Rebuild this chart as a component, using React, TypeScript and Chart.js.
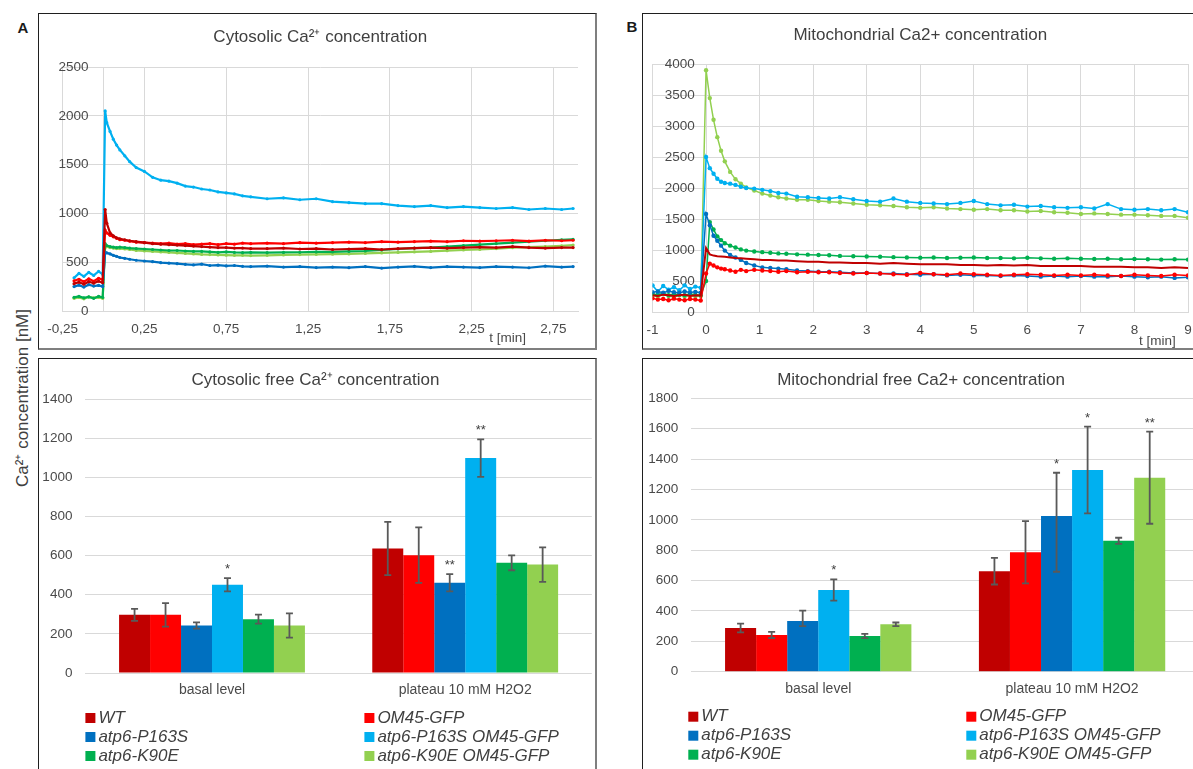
import React, { useEffect, useRef } from "react";
import { Chart, registerables } from "chart.js";

Chart.register(...registerables);

const FONT_FAMILY = "'Liberation Sans', Arial, Helvetica, sans-serif";
const TEXT_COLOR = "#404040";
const TICK_COLOR = "#4a4a4a";
const GRID_COLOR = "#d9d9d9";

// ---------- strains (bar order = legend order) ----------
const strainLabels = ["WT", "OM45-GFP", "atp6-P163S", "atp6-P163S OM45-GFP", "atp6-K90E", "atp6-K90E OM45-GFP"];
const strainColors = ["#C00000", "#FF0000", "#0070C0", "#00B0F0", "#00B050", "#92D050"];

// ---------- A: cytosolic Ca2+ time course ----------
const cytoTimeMin = [-0.18, -0.15, -0.12, -0.09, -0.06, -0.03, -0.005, 0.01, 0.02, 0.04, 0.06, 0.08, 0.1, 0.13, 0.16, 0.2, 0.25, 0.3, 0.35, 0.4, 0.45, 0.5, 0.55, 0.6, 0.65, 0.7, 0.75, 0.8, 0.85, 0.9, 1.0, 1.1, 1.2, 1.3, 1.4, 1.5, 1.6, 1.7, 1.8, 1.9, 2.0, 2.1, 2.2, 2.3, 2.4, 2.5, 2.6, 2.7, 2.8, 2.87];
const cytoTraceWT = [280, 295, 275, 300, 285, 305, 290, 1040, 900, 800, 770, 750, 740, 730, 720, 710, 700, 690, 685, 680, 675, 670, 665, 660, 655, 650, 650, 645, 645, 640, 640, 645, 635, 640, 630, 635, 640, 630, 640, 645, 650, 645, 650, 655, 650, 660, 650, 645, 650, 650];
const cytoTraceOM45 = [310, 325, 300, 330, 305, 335, 320, 830, 800, 775, 760, 745, 730, 725, 715, 705, 700, 695, 690, 695, 685, 690, 680, 685, 690, 680, 690, 685, 695, 690, 695, 690, 700, 695, 700, 705, 700, 710, 705, 710, 715, 710, 720, 715, 720, 725, 715, 725, 720, 725];
const cytoTraceP163S = [250, 265, 245, 270, 255, 262, 250, 600, 595, 585, 570, 560, 548, 540, 530, 520, 512, 505, 495, 490, 485, 478, 472, 480, 466, 470, 462, 466, 458, 455, 460, 450, 455, 445, 450, 444, 455, 440, 450, 458, 445, 455, 450, 445, 455, 450, 443, 460, 450, 455];
const cytoTraceP163SOM45 = [340, 385, 355, 395, 365, 405, 375, 2050, 1930, 1840, 1760, 1700, 1650, 1590, 1530, 1470, 1430, 1370, 1340, 1330, 1310, 1280, 1270, 1250, 1240, 1220, 1210, 1200, 1180, 1170, 1150, 1160, 1140, 1150, 1120, 1110, 1100, 1100, 1080, 1070, 1080, 1060, 1070, 1060, 1050, 1060, 1040, 1050, 1040, 1050];
const cytoTraceK90E = [140, 150, 135, 145, 130, 150, 140, 690, 670, 660, 655, 650, 655, 650, 645, 640, 635, 630, 625, 620, 620, 615, 610, 610, 605, 600, 605, 600, 598, 600, 598, 600, 602, 605, 605, 610, 615, 625, 635, 645, 650, 660, 670, 680, 690, 700, 710, 720, 730, 735];
const cytoTraceK90EOM45 = [130, 140, 125, 145, 135, 140, 130, 650, 660, 650, 645, 640, 640, 635, 630, 620, 615, 610, 605, 600, 595, 590, 585, 580, 578, 575, 572, 570, 570, 568, 570, 575, 578, 580, 582, 585, 590, 595, 600, 605, 610, 618, 625, 630, 640, 648, 655, 660, 668, 675];
const cytoTimeTicks = [-0.25, 0.25, 0.75, 1.25, 1.75, 2.25, 2.75];

// ---------- B: mitochondrial Ca2+ time course ----------
const mitoTimeMin = [-1, -0.9, -0.8, -0.7, -0.6, -0.5, -0.4, -0.3, -0.2, -0.1, 0, 0.07, 0.14, 0.21, 0.28, 0.35, 0.45, 0.55, 0.65, 0.75, 0.9, 1.05, 1.2, 1.35, 1.5, 1.7, 1.9, 2.1, 2.3, 2.5, 2.75, 3.0, 3.25, 3.5, 3.75, 4.0, 4.25, 4.5, 4.75, 5.0, 5.25, 5.5, 5.75, 6.0, 6.25, 6.5, 6.75, 7.0, 7.25, 7.5, 7.75, 8.0, 8.25, 8.5, 8.75, 9.0];
const mitoTraceWT = [270, 260, 280, 270, 260, 270, 280, 260, 270, 265, 1030, 930, 910, 900, 895, 890, 880, 870, 865, 860, 850, 840, 840, 830, 830, 820, 810, 810, 800, 800, 790, 790, 780, 790, 780, 770, 770, 770, 760, 760, 750, 760, 750, 760, 740, 740, 740, 740, 730, 730, 730, 720, 720, 710, 720, 710];
const mitoTraceOM45 = [220, 200, 210, 190, 215, 200, 190, 210, 200, 185, 620, 780, 750, 720, 700, 690, 670, 650, 680, 660, 680, 670, 660, 650, 660, 640, 650, 640, 640, 630, 620, 630, 620, 610, 600, 630, 610, 600, 620, 610, 600, 590, 600, 610, 600, 590, 600, 590, 600, 590, 580, 600, 590, 580, 600, 590];
const mitoTraceP163S = [320, 330, 310, 340, 320, 310, 330, 315, 325, 310, 1580, 1400, 1230, 1150, 1070, 990, 920, 880, 840, 790, 750, 720, 710, 700, 690, 670, 660, 650, 650, 640, 630, 630, 620, 620, 610, 600, 610, 590, 600, 590, 590, 580, 590, 580, 570, 580, 570, 580, 570, 570, 580, 570, 560, 570, 550, 560];
const mitoTraceP163SOM45 = [430, 330, 420, 360, 400, 350, 430, 370, 410, 390, 2500, 2320, 2230, 2150, 2100, 2080, 2070, 2050, 2020, 2000, 1990, 1970, 1950, 1920, 1910, 1860, 1850, 1840, 1830, 1850, 1820, 1790, 1780, 1830, 1780, 1760, 1750, 1740, 1760, 1790, 1740, 1720, 1730, 1700, 1710, 1690, 1680, 1690, 1670, 1740, 1660, 1650, 1660, 1640, 1660, 1610];
const mitoTraceK90E = [290, 280, 300, 270, 290, 280, 270, 290, 280, 270, 500, 1450, 1330, 1220, 1160, 1110, 1070, 1040, 1010, 990, 975, 965, 955, 945, 940, 930, 925, 920, 915, 905, 900, 895, 890, 885, 880, 875, 880, 870, 875, 880, 870, 870, 865, 875, 865, 860, 865, 860, 855, 860, 850, 855, 850, 845, 850, 845];
const mitoTraceK90EOM45 = [270, 250, 285, 260, 240, 275, 250, 265, 255, 260, 3900, 3450, 3100, 2820, 2600, 2430, 2260, 2140, 2070, 2010, 1960, 1910, 1880, 1850, 1830, 1810, 1810, 1790, 1780, 1770, 1750, 1730, 1720, 1710, 1690, 1680, 1690, 1670, 1660, 1650, 1660, 1640, 1640, 1620, 1630, 1610, 1600, 1580, 1590, 1580, 1570, 1570, 1560, 1550, 1550, 1520];

// ---------- bar panels ----------
const barCategories = ["basal level", "plateau 10 mM H2O2"];

const cytoBarWT = [297, 636];
const cytoBarOM45 = [297, 602];
const cytoBarP163S = [243, 461];
const cytoBarP163SOM45 = [451, 1098];
const cytoBarK90E = [275, 563];
const cytoBarK90EOM45 = [243, 554];
const cytoErrWT = [31, 136];
const cytoErrOM45 = [60, 142];
const cytoErrP163S = [16, 44];
const cytoErrP163SOM45 = [34, 96];
const cytoErrK90E = [23, 38];
const cytoErrK90EOM45 = [62, 88];
const cytoSigP163S = ["", "**"];
const cytoSigP163SOM45 = ["*", "**"];

const mitoBarWT = [288, 662];
const mitoBarOM45 = [242, 786];
const mitoBarP163S = [333, 1025];
const mitoBarP163SOM45 = [538, 1328];
const mitoBarK90E = [235, 862];
const mitoBarK90EOM45 = [312, 1277];
const mitoErrWT = [29, 88];
const mitoErrOM45 = [20, 205];
const mitoErrP163SUp = [69, 285];
const mitoErrP163SDown = [33, 367];
const mitoErrP163SOM45 = [70, 286];
const mitoErrK90E = [14, 20];
const mitoErrK90EOM45 = [12, 303];
const mitoSigP163S = ["", "*"];
const mitoSigP163SOM45 = ["*", "*"];
const mitoSigK90EOM45 = ["", "**"];

// ---------- plugins ----------
const errorBarsPlugin = {
  id: "errorBars",
  afterDatasetsDraw(chart: any) {
    const ctx = chart.ctx;
    const yScale = chart.scales.y;
    chart.data.datasets.forEach((ds: any, i: number) => {
      if (!ds.errUp) return;
      const meta = chart.getDatasetMeta(i);
      meta.data.forEach((bar: any, j: number) => {
        const v = ds.data[j];
        const up = ds.errUp[j];
        const down = (ds.errDown || ds.errUp)[j];
        const x = bar.x;
        const yTop = yScale.getPixelForValue(v + up);
        const yBot = yScale.getPixelForValue(v - down);
        ctx.save();
        ctx.strokeStyle = "#595959";
        ctx.lineWidth = 1.8;
        ctx.beginPath();
        ctx.moveTo(x, yTop);
        ctx.lineTo(x, yBot);
        ctx.moveTo(x - 3.5, yTop);
        ctx.lineTo(x + 3.5, yTop);
        ctx.moveTo(x - 3.5, yBot);
        ctx.lineTo(x + 3.5, yBot);
        ctx.stroke();
        const mark = ds.sig ? ds.sig[j] : "";
        if (mark) {
          ctx.fillStyle = TEXT_COLOR;
          ctx.font = `13px ${FONT_FAMILY}`;
          ctx.textAlign = "center";
          ctx.textBaseline = "alphabetic";
          ctx.fillText(mark, x, yTop - 5);
        }
        ctx.restore();
      });
    });
  },
};

const gridLegendPlugin = {
  id: "gridLegend",
  afterDraw(chart: any, _args: any, opts: any) {
    const { ctx, chartArea } = chart;
    ctx.save();
    ctx.font = `italic 17px ${FONT_FAMILY}`;
    ctx.textBaseline = "middle";
    ctx.textAlign = "left";
    chart.data.datasets.forEach((ds: any, i: number) => {
      const col = i % 2;
      const row = Math.floor(i / 2);
      const x = chartArea.left + opts.colOffsets[col];
      const y = chartArea.bottom + opts.firstRow + row * opts.rowGap;
      ctx.fillStyle = ds.backgroundColor;
      ctx.fillRect(x, y - 5, 10, 10);
      ctx.fillStyle = TEXT_COLOR;
      ctx.fillText(ds.label, x + 13, y);
    });
    ctx.restore();
  },
};

const axisUnitPlugin = {
  id: "axisUnit",
  afterDraw(chart: any, _args: any, opts: any) {
    const { ctx, chartArea } = chart;
    const x = chart.scales.x.getPixelForValue(opts.at);
    ctx.save();
    ctx.font = `13.5px ${FONT_FAMILY}`;
    ctx.fillStyle = TICK_COLOR;
    ctx.textAlign = "center";
    ctx.textBaseline = "middle";
    ctx.fillText(opts.text, x, chartArea.bottom + opts.dy);
    ctx.restore();
  },
};

// ---------- config builders ----------
type LineSpec = {
  title: string;
  times: number[];
  series: number[][];
  radii: number[];
  widths: number[];
  xMin: number;
  xMax: number;
  xTicks?: number[];
  xStep?: number;
  yMax: number;
  yStep: number;
  yLabelGap: string;
  padLeft: number;
  padRight: number;
  titleTop: number;
  titleBottom: number;
  xAxisHeight: number;
  unitAt: number;
  unitDy: number;
};

function makeLineConfig(s: LineSpec): any {
  return {
    type: "line",
    data: {
      datasets: s.series.map((vals, i) => ({
        label: strainLabels[i],
        data: s.times.map((t, k) => ({ x: t, y: vals[k] })),
        borderColor: strainColors[i],
        backgroundColor: strainColors[i],
        pointBackgroundColor: strainColors[i],
        pointBorderWidth: 0,
        pointRadius: s.radii[i],
        borderWidth: s.widths[i],
        tension: 0,
        fill: false,
      })),
    },
    options: {
      responsive: false,
      animation: false,
      events: [],
      layout: { padding: { left: s.padLeft, right: s.padRight, top: 0, bottom: 0 } },
      plugins: {
        legend: { display: false },
        tooltip: { enabled: false },
        title: {
          display: true,
          text: s.title,
          color: TEXT_COLOR,
          font: { size: 17, family: FONT_FAMILY, weight: "normal" },
          padding: { top: s.titleTop, bottom: s.titleBottom },
        },
        axisUnit: { text: "t [min]", at: s.unitAt, dy: s.unitDy },
      },
      scales: {
        x: {
          type: "linear",
          min: s.xMin,
          max: s.xMax,
          afterBuildTicks: s.xTicks
            ? (scale: any) => {
                scale.ticks = (s.xTicks as number[]).map((v) => ({ value: v }));
              }
            : undefined,
          ticks: {
            stepSize: s.xStep,
            padding: 0,
            color: TICK_COLOR,
            font: { size: 13.5, family: FONT_FAMILY },
            maxRotation: 0,
            autoSkip: false,
            callback: (v: any) => String(v).replace(".", ","),
          },
          grid: { color: GRID_COLOR, drawTicks: true, tickLength: 10, tickColor: "rgba(0,0,0,0)" },
          border: { color: GRID_COLOR },
          afterFit: (scale: any) => {
            scale.height = s.xAxisHeight;
          },
        },
        y: {
          type: "linear",
          position: { x: 0 },
          min: 0,
          max: s.yMax,
          ticks: {
            stepSize: s.yStep,
            padding: 0,
            color: TICK_COLOR,
            font: { size: 13.5, family: FONT_FAMILY },
            callback: (v: any) => String(v) + s.yLabelGap,
          },
          grid: { color: GRID_COLOR, drawTicks: false },
          border: { color: GRID_COLOR },
        },
      },
    },
    plugins: [axisUnitPlugin],
  };
}

type BarSpec = {
  title: string;
  means: number[][];
  errUp: number[][];
  errDown: number[][];
  sig: string[][];
  yMax: number;
  yAxisWidth: number;
  padRight: number;
  titleTop: number;
  titleBottom: number;
  xAxisHeight: number;
  legendCols: number[];
};

function makeBarConfig(s: BarSpec): any {
  return {
    type: "bar",
    data: {
      labels: barCategories,
      datasets: s.means.map((m, i) => ({
        label: strainLabels[i],
        data: m,
        backgroundColor: strainColors[i],
        borderWidth: 0,
        categoryPercentage: 0.734,
        barPercentage: 1,
        errUp: s.errUp[i],
        errDown: s.errDown[i],
        sig: s.sig[i],
      })),
    },
    options: {
      responsive: false,
      animation: false,
      events: [],
      layout: { padding: { left: 0, right: s.padRight, top: 0, bottom: 0 } },
      plugins: {
        legend: { display: false },
        tooltip: { enabled: false },
        title: {
          display: true,
          text: s.title,
          color: TEXT_COLOR,
          font: { size: 17, family: FONT_FAMILY, weight: "normal" },
          padding: { top: s.titleTop, bottom: s.titleBottom },
        },
        gridLegend: { colOffsets: s.legendCols, firstRow: 45, rowGap: 19 },
      },
      scales: {
        x: {
          grid: { display: false, drawTicks: false },
          border: { display: false },
          ticks: { padding: 9, color: TICK_COLOR, font: { size: 14, family: FONT_FAMILY } },
          afterFit: (scale: any) => {
            scale.height = s.xAxisHeight;
          },
        },
        y: {
          min: 0,
          max: s.yMax,
          ticks: {
            stepSize: 200,
            padding: 13,
            color: TICK_COLOR,
            font: { size: 13.5, family: FONT_FAMILY },
            callback: (v: any) => String(v),
          },
          grid: { color: GRID_COLOR, drawTicks: false },
          border: { display: false },
          afterFit: (scale: any) => {
            scale.width = s.yAxisWidth;
          },
        },
      },
    },
    plugins: [errorBarsPlugin, gridLegendPlugin],
  };
}

// ---------- components ----------
function ChartCanvas(props: { left: number; top: number; width: number; height: number; make: () => any }) {
  const ref = useRef<HTMLCanvasElement>(null);
  useEffect(() => {
    const chart = new Chart(ref.current as HTMLCanvasElement, props.make());
    return () => chart.destroy();
  }, []);
  return (
    <canvas
      ref={ref}
      width={props.width}
      height={props.height}
      style={{ position: "absolute", left: props.left, top: props.top, width: props.width, height: props.height }}
    />
  );
}

function Box(props: { left: number; top: number; width: number; height: number }) {
  return (
    <div
      style={{
        position: "absolute",
        left: props.left,
        top: props.top,
        width: props.width,
        height: props.height,
        boxSizing: "border-box",
        borderTop: "1px solid #1f1f1f",
        borderLeft: "1px solid #1f1f1f",
        borderRight: "2px solid #7f7f7f",
        borderBottom: "2px solid #7f7f7f",
        background: "#ffffff",
      }}
    />
  );
}

const cytoLine = () =>
  makeLineConfig({
    title: "Cytosolic Ca²⁺ concentration",
    times: cytoTimeMin,
    series: [cytoTraceWT, cytoTraceOM45, cytoTraceP163S, cytoTraceP163SOM45, cytoTraceK90E, cytoTraceK90EOM45],
    radii: [1.6, 1.6, 1.6, 1.6, 1.6, 1.6],
    widths: [2.2, 2.2, 2.2, 2.2, 2.2, 2.2],
    xMin: -0.25,
    xMax: 2.9,
    xTicks: cytoTimeTicks,
    yMax: 2500,
    yStep: 500,
    yLabelGap: "    ",
    padLeft: 23.6,
    padRight: 17,
    titleTop: 12.8,
    titleBottom: 19.8,
    xAxisHeight: 37,
    unitAt: 2.47,
    unitDy: 27,
  });

const mitoLine = () =>
  makeLineConfig({
    title: "Mitochondrial Ca2+ concentration",
    times: mitoTimeMin,
    series: [mitoTraceWT, mitoTraceOM45, mitoTraceP163S, mitoTraceP163SOM45, mitoTraceK90E, mitoTraceK90EOM45],
    radii: [0, 2.2, 2.2, 2.2, 2.2, 2.2],
    widths: [2, 1.5, 1.5, 1.5, 1.5, 1.5],
    xMin: -1,
    xMax: 9,
    xStep: 1,
    yMax: 4000,
    yStep: 500,
    yLabelGap: "   ",
    padLeft: 9.5,
    padRight: 11,
    titleTop: 10.8,
    titleBottom: 18.8,
    xAxisHeight: 36,
    unitAt: 8.43,
    unitDy: 29,
  });

const cytoBars = () =>
  makeBarConfig({
    title: "Cytosolic free Ca²⁺ concentration",
    means: [cytoBarWT, cytoBarOM45, cytoBarP163S, cytoBarP163SOM45, cytoBarK90E, cytoBarK90EOM45],
    errUp: [cytoErrWT, cytoErrOM45, cytoErrP163S, cytoErrP163SOM45, cytoErrK90E, cytoErrK90EOM45],
    errDown: [cytoErrWT, cytoErrOM45, cytoErrP163S, cytoErrP163SOM45, cytoErrK90E, cytoErrK90EOM45],
    sig: [["", ""], ["", ""], cytoSigP163S, cytoSigP163SOM45, ["", ""], ["", ""]],
    yMax: 1400,
    yAxisWidth: 46.4,
    padRight: 3.2,
    titleTop: 10.8,
    titleBottom: 8.8,
    xAxisHeight: 96,
    legendCols: [0, 279],
  });

const mitoBars = () =>
  makeBarConfig({
    title: "Mitochondrial free Ca2+ concentration",
    means: [mitoBarWT, mitoBarOM45, mitoBarP163S, mitoBarP163SOM45, mitoBarK90E, mitoBarK90EOM45],
    errUp: [mitoErrWT, mitoErrOM45, mitoErrP163SUp, mitoErrP163SOM45, mitoErrK90E, mitoErrK90EOM45],
    errDown: [mitoErrWT, mitoErrOM45, mitoErrP163SDown, mitoErrP163SOM45, mitoErrK90E, mitoErrK90EOM45],
    sig: [["", ""], ["", ""], mitoSigP163S, mitoSigP163SOM45, ["", ""], mitoSigK90EOM45],
    yMax: 1800,
    yAxisWidth: 48.3,
    padRight: 0,
    titleTop: 10.8,
    titleBottom: 8.1,
    xAxisHeight: 97.3,
    legendCols: [-3, 275],
  });

export default function App() {
  return (
    <div
      style={{
        position: "fixed",
        left: 0,
        top: 0,
        width: 1193,
        height: 769,
        overflow: "hidden",
        background: "#ffffff",
        fontFamily: FONT_FAMILY,
      }}
    >
      <Box left={38} top={13} width={559} height={337} />
      <Box left={38} top={358} width={559} height={430} />
      <Box left={642} top={13} width={559} height={337} />
      <Box left={642} top={358} width={559} height={430} />

      <ChartCanvas left={39} top={14} width={556} height={334} make={cytoLine} />
      <ChartCanvas left={643} top={14} width={556} height={334} make={mitoLine} />
      <ChartCanvas left={39} top={359} width={556} height={410} make={cytoBars} />
      <ChartCanvas left={643} top={359} width={556} height={410} make={mitoBars} />

      <div
        style={{
          position: "absolute",
          left: 23,
          top: 27,
          transform: "translate(-50%, -50%)",
          fontWeight: "bold",
          fontSize: 15,
          color: "#1a1a1a",
        }}
      >
        A
      </div>
      <div
        style={{
          position: "absolute",
          left: 632,
          top: 26,
          transform: "translate(-50%, -50%)",
          fontWeight: "bold",
          fontSize: 15,
          color: "#1a1a1a",
        }}
      >
        B
      </div>
      <div
        style={{
          position: "absolute",
          left: 21,
          top: 398,
          transform: "translate(-50%, -50%) rotate(-90deg)",
          whiteSpace: "nowrap",
          fontSize: 17,
          color: TEXT_COLOR,
        }}
      >
        Ca²⁺ concentration [nM]
      </div>
    </div>
  );
}
